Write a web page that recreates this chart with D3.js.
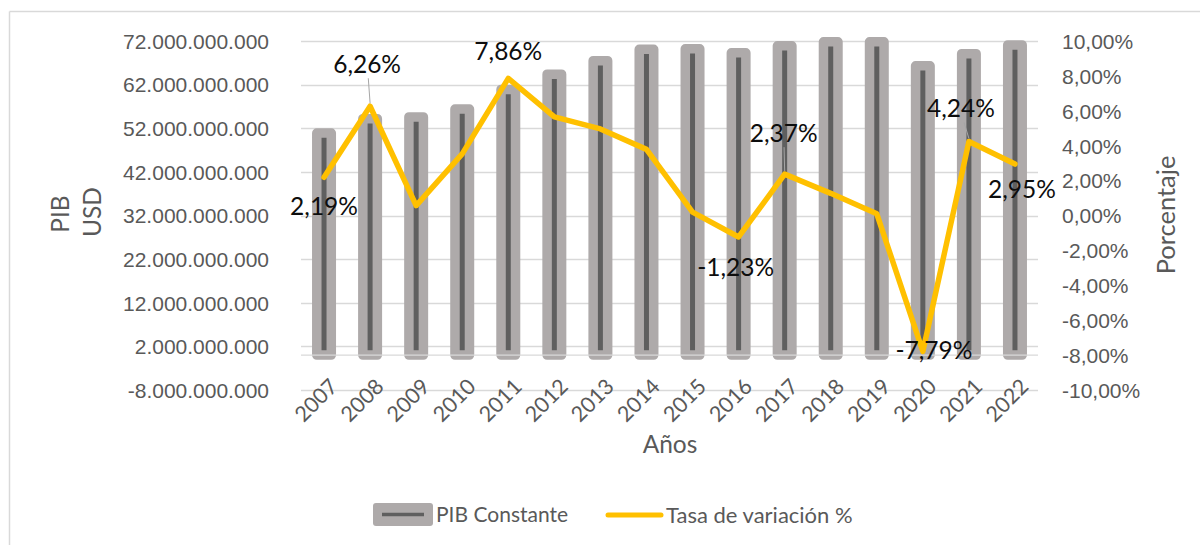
<!DOCTYPE html>
<html>
<head>
<meta charset="utf-8">
<script src="https://cdn.jsdelivr.net/npm/d3@7"></script>
<style>
  html, body { margin: 0; padding: 0; background: #fff; }
  svg { display: block; font-family: Lato, "Open Sans", sans-serif; }
</style>
</head>
<body>
<svg id="chart" width="1200" height="545"></svg>
<script>
// ---- Data ----
const years = ["2007","2008","2009","2010","2011","2012","2013","2014","2015","2016","2017","2018","2019","2020","2021","2022"];
const pibConstante = [50.9e9, 54.2e9, 54.6e9, 56.4e9, 60.9e9, 64.4e9, 67.5e9, 70.1e9, 70.2e9, 69.3e9, 70.9e9, 71.8e9, 71.8e9, 66.3e9, 69.1e9, 71.1e9];
const tasaVariacion = [2.19, 6.26, 0.57, 3.53, 7.86, 5.65, 4.96, 3.79, 0.19, -1.23, 2.37, 1.27, 0.10, -7.79, 4.24, 2.95];
const leftTicks = [-8e9, 2e9, 12e9, 22e9, 32e9, 42e9, 52e9, 62e9, 72e9];
const rightTicks = [-10, -8, -6, -4, -2, 0, 2, 4, 6, 8, 10];
const labeledYears = ["2007","2008","2011","2016","2017","2020","2021","2022"];
const seriesNames = ["PIB Constante", "Tasa de variación %"];

// ---- Label placement (styling only) ----
const labelOffsets = {
  "2007": {dx: 0, dy: 29, leader: false},
  "2008": {dx: -3, dy: -42, leader: true},
  "2011": {dx: 0, dy: -27, leader: false},
  "2016": {dx: -3, dy: 30, leader: false},
  "2017": {dx: -1, dy: -41, leader: true},
  "2020": {dx: 11, dy: -1, leader: false},
  "2021": {dx: -8, dy: -33, leader: true},
  "2022": {dx: 7, dy: 25, leader: false}
};

const loc = d3.formatLocale({decimal: ",", thousands: ".", grouping: [3], currency: ["$", ""], minus: "-"});
const fmtBig = loc.format(",.0f");
const fmtPct = v => loc.format(".2f")(v) + "%";

const svg = d3.select("#chart");
const gridColor = "#d9d9d9";
const tickColor = "#595959";

// frame
svg.append("line").attr("x1", 9.5).attr("x2", 1200).attr("y1", 11.5).attr("y2", 11.5).attr("stroke", gridColor).attr("stroke-width", 1.5);
svg.append("line").attr("x1", 9.5).attr("x2", 9.5).attr("y1", 11.5).attr("y2", 545).attr("stroke", gridColor).attr("stroke-width", 1.5);

const plotL = 301, plotR = 1038, plotT = 41, plotB = 390;
const x = d3.scaleBand().domain(years).range([plotL, plotR]);
const yL = d3.scaleLinear().domain([-8e9, 72e9]).range([plotB, plotT]);
const yR = d3.scaleLinear().domain([-10, 10]).range([plotB, plotT]);
const cx = d => x(d) + x.bandwidth() / 2;

// gridlines
svg.append("g").selectAll("line").data(leftTicks).join("line")
  .attr("x1", plotL).attr("x2", plotR)
  .attr("y1", d => Math.round(yL(d)) + 0.5).attr("y2", d => Math.round(yL(d)) + 0.5)
  .attr("stroke", gridColor).attr("stroke-width", 1.3);

// left axis
const axL = svg.append("g").attr("transform", `translate(${plotL - 29},0)`)
  .call(d3.axisLeft(yL).tickValues(leftTicks).tickFormat(fmtBig).tickSize(0));
axL.select(".domain").remove();
axL.selectAll("text").attr("fill", tickColor).attr("font-size", 21).attr("dy", "0.35em");

// right axis
const axR = svg.append("g").attr("transform", `translate(${plotR + 24},0)`)
  .call(d3.axisRight(yR).tickValues(rightTicks).tickFormat(fmtPct).tickSize(0));
axR.select(".domain").remove();
axR.selectAll("text").attr("fill", tickColor).attr("font-size", 21).attr("dy", "0.35em").attr("x", 0);

// bars
const barW = 14.5;
svg.append("g").selectAll("rect").data(years).join("rect")
  .attr("x", d => cx(d) - barW / 2)
  .attr("width", barW)
  .attr("y", (d, i) => yL(pibConstante[i]))
  .attr("height", (d, i) => yL(0) - yL(pibConstante[i]))
  .attr("fill", "#5f5f5f")
  .attr("stroke", "#aeaaaa")
  .attr("stroke-width", 9.5)
  .attr("stroke-linejoin", "round");

// horizontal category axis line at zero
svg.append("line").attr("x1", plotL).attr("x2", plotR)
  .attr("y1", yL(0)).attr("y2", yL(0))
  .attr("stroke", gridColor).attr("stroke-width", 1.3);

// x tick labels
svg.append("g").selectAll("text").data(years).join("text")
  .attr("transform", d => `translate(${cx(d) + 4},${377}) rotate(-45)`)
  .attr("text-anchor", "end")
  .attr("dy", "0.72em")
  .attr("fill", tickColor).attr("font-size", 21.5)
  .text(d => d);

// line
const line = d3.line().x((d, i) => cx(years[i])).y(d => yR(d));
svg.append("path").datum(tasaVariacion)
  .attr("d", line).attr("fill", "none")
  .attr("stroke", "#ffc000").attr("stroke-width", 5.5)
  .attr("stroke-linejoin", "round").attr("stroke-linecap", "round");

// data labels
const lbl = svg.append("g");
labeledYears.forEach(yr => {
  const i = years.indexOf(yr);
  const px = cx(yr), py = yR(tasaVariacion[i]);
  const o = labelOffsets[yr];
  if (o.leader) {
    lbl.append("line")
      .attr("x1", px).attr("y1", py - 3)
      .attr("x2", px + o.dx * 0.6).attr("y2", py + o.dy + 14)
      .attr("stroke", "#a6a6a6").attr("stroke-width", 1);
  }
  lbl.append("text")
    .attr("x", px + o.dx).attr("y", py + o.dy)
    .attr("dy", "0.35em").attr("text-anchor", "middle")
    .attr("font-size", 24.5).attr("fill", "#0d0d0d")
    .text(fmtPct(tasaVariacion[i]));
});

// axis titles
svg.append("text").attr("transform", "translate(60,214) rotate(-90)")
  .attr("text-anchor", "middle").attr("dy", "0.35em")
  .attr("fill", tickColor).attr("font-size", 24.5).text("PIB");
svg.append("text").attr("transform", "translate(92,212) rotate(-90)")
  .attr("text-anchor", "middle").attr("dy", "0.35em")
  .attr("fill", tickColor).attr("font-size", 24.5).text("USD");
svg.append("text").attr("transform", "translate(1166,215) rotate(-90)")
  .attr("text-anchor", "middle").attr("dy", "0.35em")
  .attr("fill", tickColor).attr("font-size", 25.5).text("Porcentaje");
svg.append("text").attr("x", 670).attr("y", 444)
  .attr("text-anchor", "middle").attr("dy", "0.35em")
  .attr("fill", tickColor).attr("font-size", 24.5).text("Años");

// legend
const lg = svg.append("g");
lg.append("rect").attr("x", 373).attr("y", 503).attr("width", 60).attr("height", 23).attr("rx", 3)
  .attr("fill", "#aeaaaa");
lg.append("line").attr("x1", 382).attr("x2", 424).attr("y1", 514.5).attr("y2", 514.5)
  .attr("stroke", "#5f5f5f").attr("stroke-width", 3.5);
lg.append("text").attr("x", 436).attr("y", 515).attr("dy", "0.35em")
  .attr("fill", tickColor).attr("font-size", 21).text(seriesNames[0]);
lg.append("line").attr("x1", 608).attr("x2", 661).attr("y1", 515).attr("y2", 515)
  .attr("stroke", "#ffc000").attr("stroke-width", 5).attr("stroke-linecap", "round");
lg.append("text").attr("x", 666).attr("y", 515).attr("dy", "0.35em")
  .attr("fill", tickColor).attr("font-size", 22).text(seriesNames[1]);
</script>
</body>
</html>
